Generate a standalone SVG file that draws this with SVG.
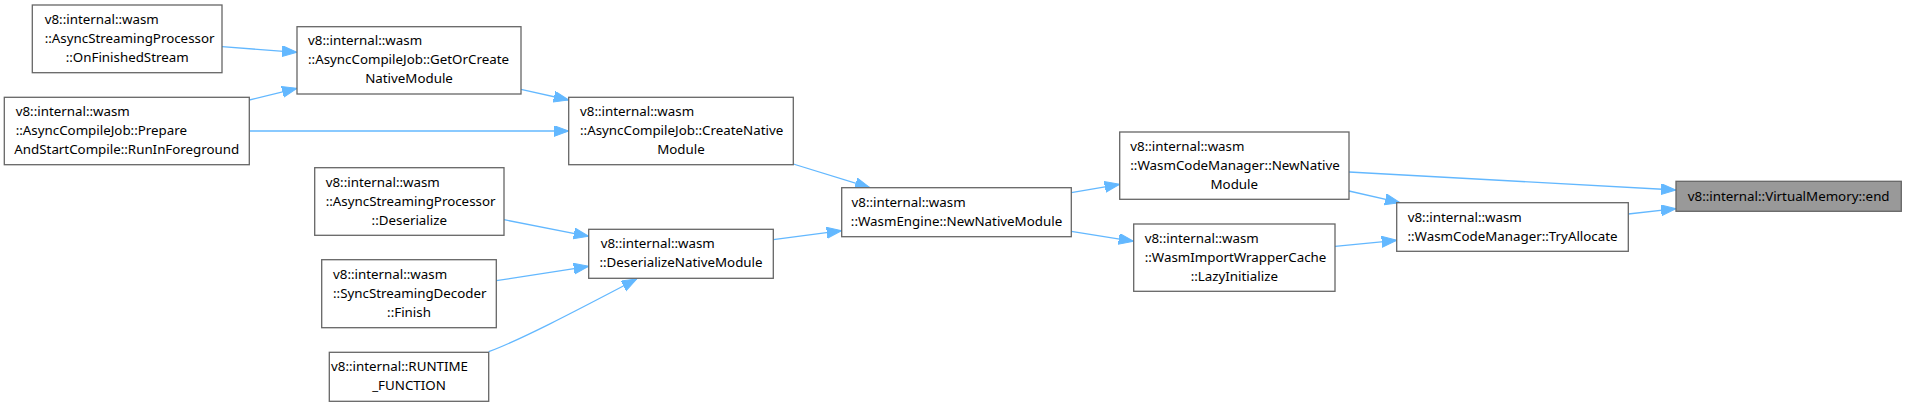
<svg xmlns="http://www.w3.org/2000/svg" width="1907" height="406" viewBox="0 0 1907 406">
<style>
  .node rect { fill: #ffffff; stroke: #666666; stroke-width: 1.3; }
  .node.hl rect { fill: #999999; }
  text { font-family: "Noto Sans", "DejaVu Sans", sans-serif; font-size: 13.33px; fill: #000000; }
  .c { text-anchor: middle; }
  .edge { fill: none; stroke: #63b8ff; stroke-width: 1.3; marker-end: url(#arr); }
</style>
<defs>
  <marker id="arr" markerUnits="userSpaceOnUse" markerWidth="16" markerHeight="12" refX="15" refY="5.5" orient="auto" viewBox="0 0 16 12">
    <path d="M0,0 L15,5.5 L0,11 Z" fill="#63b8ff" stroke="#63b8ff" stroke-width="1"/>
  </marker>
</defs>
<g id="connectors">
  <path class="edge" d="M222,46.7 L297,52.3"/>
  <path class="edge" d="M249.3,100 L297,88.3"/>
  <path class="edge" d="M249.3,131 L568.7,131"/>
  <path class="edge" d="M521,89.3 L568.7,100"/>
  <path class="edge" d="M793.3,164 L870,187.7"/>
  <path class="edge" d="M504,219.7 L588.7,236.3"/>
  <path class="edge" d="M496.3,280.7 L588.7,266.3"/>
  <path class="edge" d="M488.7,351.7 C520,340 570,314 636.7,279"/>
  <path class="edge" d="M773.3,239.7 L841.7,230.7"/>
  <path class="edge" d="M1071.3,192.7 L1119.7,184.3"/>
  <path class="edge" d="M1071.3,231.3 L1133.7,241.3"/>
  <path class="edge" d="M1349,191 L1400,202.7"/>
  <path class="edge" d="M1335,246.3 L1396.7,240.3"/>
  <path class="edge" d="M1349,172 L1676,190"/>
  <path class="edge" d="M1628.3,214 L1676,208.7"/>
</g>
<g id="node_OnFinishedStream" class="node">
  <rect x="32.3" y="5" width="189.7" height="67.7"/>
  <text x="44.7" y="23.5">v8::internal::wasm</text>
  <text x="44.7" y="42.5">::AsyncStreamingProcessor</text>
  <text class="c" x="127.2" y="61.5">::OnFinishedStream</text>
</g>
<g id="node_GetOrCreateNativeModule" class="node">
  <rect x="297" y="26.7" width="224" height="67.3"/>
  <text x="308" y="45">v8::internal::wasm</text>
  <text x="308" y="64">::AsyncCompileJob::GetOrCreate</text>
  <text class="c" x="409" y="83">NativeModule</text>
</g>
<g id="node_RunInForeground" class="node">
  <rect x="4.3" y="97.3" width="245" height="67.4"/>
  <text x="15.7" y="116">v8::internal::wasm</text>
  <text x="15.7" y="135">::AsyncCompileJob::Prepare</text>
  <text class="c" x="126.8" y="154">AndStartCompile::RunInForeground</text>
</g>
<g id="node_CreateNativeModule" class="node">
  <rect x="568.7" y="97.3" width="224.6" height="67.4"/>
  <text x="580" y="116">v8::internal::wasm</text>
  <text x="580" y="135">::AsyncCompileJob::CreateNative</text>
  <text class="c" x="681" y="154">Module</text>
</g>
<g id="node_AsyncStreamingProcessorDeserialize" class="node">
  <rect x="314.7" y="167.7" width="189.3" height="67.6"/>
  <text x="325.7" y="186.5">v8::internal::wasm</text>
  <text x="325.7" y="205.5">::AsyncStreamingProcessor</text>
  <text class="c" x="409.3" y="224.5">::Deserialize</text>
</g>
<g id="node_SyncStreamingDecoderFinish" class="node">
  <rect x="321.7" y="259.7" width="174.6" height="68"/>
  <text x="333" y="278.7">v8::internal::wasm</text>
  <text x="333" y="297.7">::SyncStreamingDecoder</text>
  <text class="c" x="409" y="316.7">::Finish</text>
</g>
<g id="node_RUNTIME_FUNCTION" class="node">
  <rect x="329.3" y="352.3" width="159.4" height="49"/>
  <text x="331" y="371.3">v8::internal::RUNTIME</text>
  <text class="c" x="409" y="390.3">_FUNCTION</text>
</g>
<g id="node_DeserializeNativeModule" class="node">
  <rect x="588.7" y="229.3" width="184.6" height="49"/>
  <text x="600.7" y="248.3">v8::internal::wasm</text>
  <text class="c" x="681" y="267.3">::DeserializeNativeModule</text>
</g>
<g id="node_WasmEngineNewNativeModule" class="node">
  <rect x="841.7" y="187.7" width="229.6" height="49"/>
  <text x="851.5" y="206.7">v8::internal::wasm</text>
  <text class="c" x="956.5" y="225.7">::WasmEngine::NewNativeModule</text>
</g>
<g id="node_WasmCodeManagerNewNativeModule" class="node">
  <rect x="1119.7" y="132" width="229.3" height="67.3"/>
  <text x="1130.3" y="150.7">v8::internal::wasm</text>
  <text x="1130.3" y="169.7">::WasmCodeManager::NewNative</text>
  <text class="c" x="1234.3" y="188.7">Module</text>
</g>
<g id="node_LazyInitialize" class="node">
  <rect x="1133.7" y="224" width="201.3" height="67.3"/>
  <text x="1144.7" y="242.7">v8::internal::wasm</text>
  <text x="1144.7" y="261.7">::WasmImportWrapperCache</text>
  <text class="c" x="1234.3" y="280.7">::LazyInitialize</text>
</g>
<g id="node_TryAllocate" class="node">
  <rect x="1396.7" y="202.7" width="231.6" height="48.6"/>
  <text x="1407.7" y="221.5">v8::internal::wasm</text>
  <text class="c" x="1512.5" y="240.5">::WasmCodeManager::TryAllocate</text>
</g>
<g id="node_VirtualMemoryEnd" class="node hl">
  <rect x="1676" y="181.3" width="225.3" height="30"/>
  <text class="c" x="1788.7" y="200.5">v8::internal::VirtualMemory::end</text>
</g>
</svg>
